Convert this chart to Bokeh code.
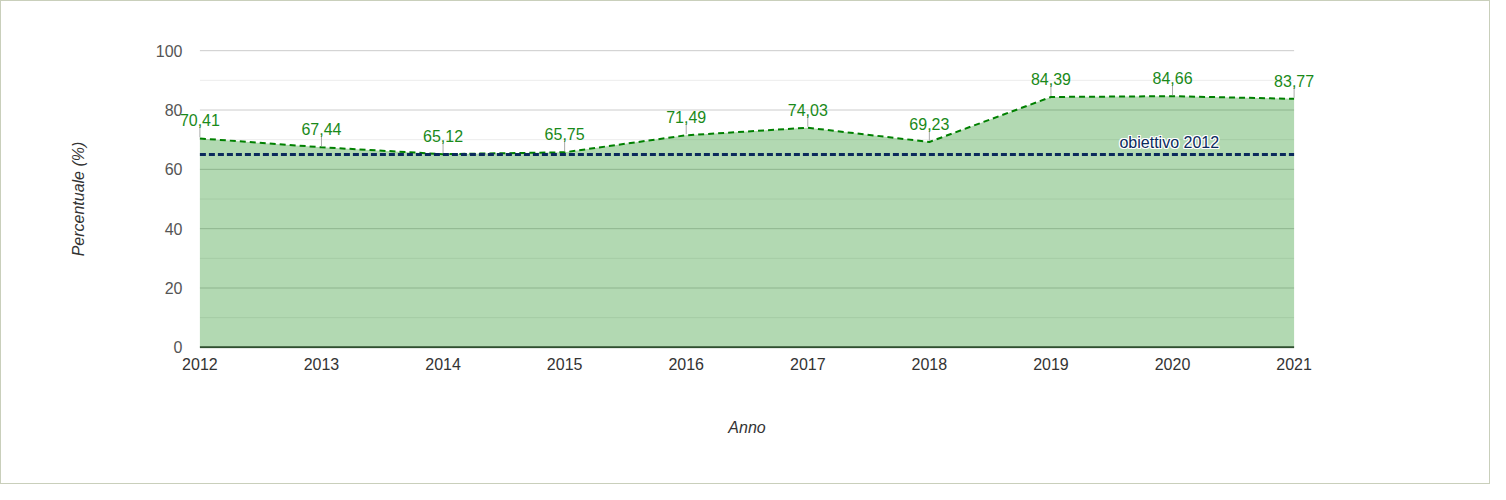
from bokeh.plotting import figure
from bokeh.models import Range1d, FixedTicker, Label
from bokeh.embed import file_html
from bokeh.resources import INLINE

years = [2012, 2013, 2014, 2015, 2016, 2017, 2018, 2019, 2020, 2021]
percent = [70.41, 67.44, 65.12, 65.75, 71.49, 74.03, 69.23, 84.39, 84.66, 83.77]
target = 65
target_label = "obiettivo 2012"
x_title = "Anno"
y_title = "Percentuale (%)"
y_major = [0, 20, 40, 60, 80, 100]
y_minor = [10, 30, 50, 70, 90]

labels = [f"{v:.2f}".replace(".", ",") for v in percent]

FONT = "Liberation Sans"
W, H = 1490, 484
FL, FR, FT, FB = 168, 167, 48, 137
frame_h = H - FT - FB
xpad = 0.25
ypad = 0.4

p = figure(width=W, height=H, output_backend="svg", toolbar_location=None,
           x_range=Range1d(years[0] - xpad, years[-1] + xpad),
           y_range=Range1d(-ypad, 100 + ypad),
           min_border_left=FL, min_border_right=FR, min_border_top=FT, min_border_bottom=FB)
p.outline_line_color = None
p.background_fill_color = "white"
p.border_fill_color = "white"
p.styles = {"border": "1px solid #c9cfbb"}

p.xgrid.grid_line_color = None
p.ygrid.grid_line_color = None

p.yaxis.ticker = FixedTicker(ticks=y_major)
p.xaxis.ticker = FixedTicker(ticks=years)

for ax in (p.xaxis, p.yaxis):
    ax.axis_line_color = None
    ax.major_tick_line_color = None
    ax.minor_tick_line_color = None
    ax.major_tick_out = 0
    ax.minor_tick_out = 0
    ax.major_label_text_font = FONT
    ax.major_label_text_font_size = "16px"
    ax.axis_label_text_font = FONT
    ax.axis_label_text_font_size = "16px"
    ax.axis_label_text_font_style = "italic"
    ax.axis_label_text_color = "#333333"

p.yaxis.major_label_text_color = "#555555"
p.yaxis.major_label_standoff = -13
p.yaxis.axis_label = y_title
p.yaxis.axis_label_standoff = 66

p.xaxis.major_label_text_color = "#333333"
p.xaxis.major_label_standoff = 9
p.xaxis.axis_label = x_title
p.xaxis.axis_label_standoff = 46

# horizontal grid lines limited to the data span
p.segment(x0=[years[0]] * len(y_minor), x1=[years[-1]] * len(y_minor), y0=y_minor, y1=y_minor,
          line_color="#ececec", line_width=1, level="underlay")
p.segment(x0=[years[0]] * len(y_major), x1=[years[-1]] * len(y_major), y0=y_major, y1=y_major,
          line_color="#cccccc", line_width=1, level="underlay")

# area + line
p.varea(x=years, y1=0, y2=percent, fill_color="#008000", fill_alpha=0.3)
p.line(x=years, y=percent, line_color="#008000", line_width=2, line_dash="6 4")

# x axis baseline
p.line(x=[years[0], years[-1]], y=[0, 0], line_color="#2f4f2f", line_width=2)

# target line
p.line(x=[years[0], years[-1]], y=[target, target], line_color="#0b2a5c",
       line_width=3, line_dash="6 3")

# data label connectors and labels
px_per_unit = frame_h / (100 + 2 * ypad)
p.segment(x0=years, y0=[v + 1 / px_per_unit for v in percent],
          x1=years, y1=[v + 12 / px_per_unit for v in percent],
          line_color="#aaaaaa", line_width=1)

for xv, yv, tv in zip(years, percent, labels):
    p.add_layout(Label(x=xv, y=yv, text=tv, text_align="center",
                       text_baseline="bottom", y_offset=12, text_font=FONT,
                       text_font_size="16px", text_color="#1a8a1a"))

# target label with white halo
for dx, dy in [(-1, 0), (1, 0), (0, -1), (0, 1), (-1, -1), (1, 1), (-1, 1), (1, -1)]:
    p.add_layout(Label(x=years[-1], y=target, text=target_label, text_align="right",
                       text_baseline="bottom", x_offset=-75 + dx, y_offset=4 + dy,
                       text_font=FONT, text_font_size="16px", text_color="white"))
p.add_layout(Label(x=years[-1], y=target, text=target_label, text_align="right",
                   text_baseline="bottom", x_offset=-75, y_offset=4,
                   text_font=FONT, text_font_size="16px", text_color="#0b2a5c"))

open("out.html", "w").write(file_html(p, INLINE))
